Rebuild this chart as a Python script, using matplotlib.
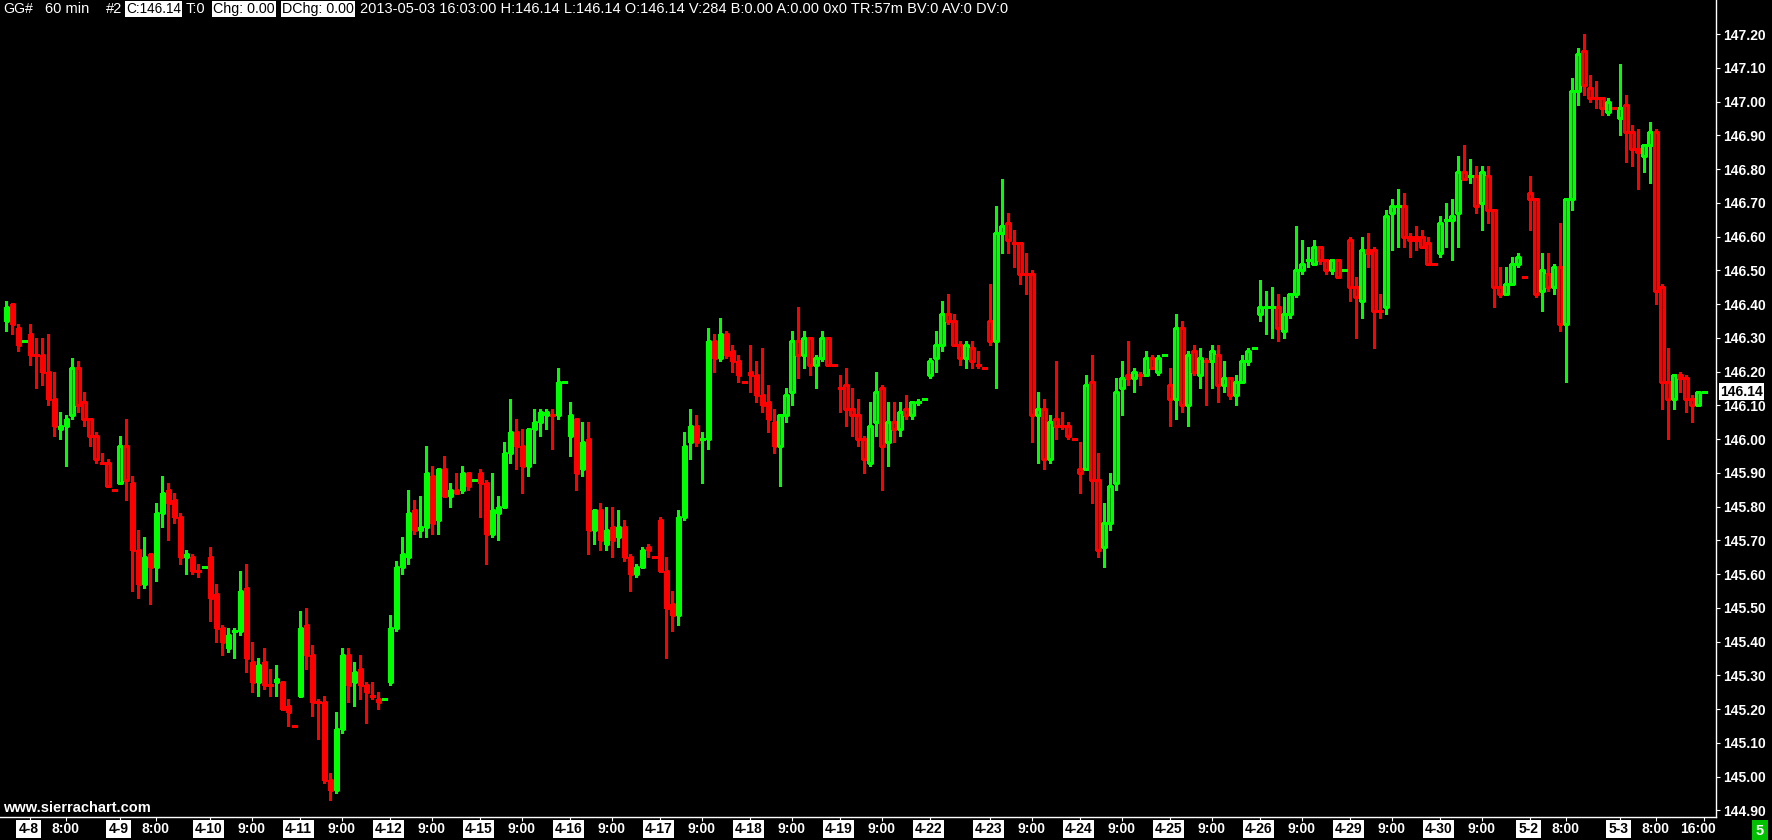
import matplotlib
matplotlib.use("Agg")
import matplotlib.pyplot as plt
from matplotlib import font_manager

# 60 min bars, GG#, 2013-04-05 .. 2013-05-03 (one list row per session)
opens = [
    146.35, 146.40, 146.33, 146.29,
    146.31, 146.25, 146.25, 146.20, 146.12, 146.03, 146.04, 146.07, 146.21, 146.11, 146.06, 146.01, 145.93, 145.93, 145.85,
    145.87, 145.98, 145.87, 145.67, 145.57, 145.66, 145.62, 145.78, 145.85, 145.82, 145.77, 145.65, 145.65, 145.61, 145.62,
    145.65, 145.54, 145.44, 145.38, 145.43, 145.43, 145.56, 145.34, 145.28, 145.34, 145.27, 145.28, 145.28, 145.21, 145.15,
    145.24, 145.45, 145.36, 145.22, 145.22, 144.99, 144.96, 145.14, 145.36, 145.28, 145.32, 145.27, 145.24, 145.23, 145.23,
    145.28, 145.44, 145.62, 145.65, 145.79, 145.73, 145.74, 145.89, 145.76, 145.91, 145.83, 145.85, 145.85, 145.90, 145.88,
    145.90, 145.87, 145.72, 145.78, 145.80, 145.96, 146.02, 145.98, 145.92, 146.03, 146.05, 146.07, 146.07, 146.07, 146.17,
    146.01, 146.06, 145.91, 146.00, 145.73, 145.79, 145.69, 145.74, 145.71, 145.74, 145.65, 145.60, 145.62, 145.68, 145.65,
    145.76, 145.61, 145.51, 145.48, 145.77, 145.99, 146.04, 146.00, 146.00, 146.29, 146.24, 146.31, 146.26, 146.23, 146.17,
    146.20, 146.19, 146.13, 146.11, 146.05, 145.98, 146.07, 146.14, 146.29, 146.25, 146.30, 146.22, 146.24, 146.30, 146.22,
    146.15, 146.16, 146.09, 146.07, 146.00, 145.93, 146.05, 146.15, 145.99, 146.05, 146.03, 146.09, 146.07, 146.11, 146.12,
    146.19, 146.24, 146.28, 146.37, 146.35, 146.28, 146.24, 146.27, 146.22, 146.21,
    146.35, 146.29, 146.61, 146.64, 146.58, 146.58, 146.49, 146.49, 146.07, 146.09, 145.94, 146.06, 146.04, 146.04, 146.00,
    145.91, 145.91, 146.17, 145.88, 145.68, 145.75, 145.87, 146.15, 146.19, 146.18, 146.19, 146.19, 146.24, 146.20, 146.25,
    146.16, 146.12, 146.33, 146.10, 146.26, 146.19, 146.23, 146.23, 146.25, 146.16, 146.18, 146.13, 146.17, 146.23, 146.27,
    146.37, 146.39, 146.39, 146.39, 146.32, 146.37, 146.43, 146.50, 146.53, 146.52, 146.57, 146.53, 146.50, 146.53, 146.50,
    146.59, 146.45, 146.41, 146.56, 146.56, 146.38, 146.39, 146.67, 146.69, 146.69, 146.60, 146.60, 146.60, 146.58, 146.52,
    146.55, 146.65, 146.65, 146.67, 146.79, 146.78, 146.78, 146.70, 146.78, 146.68, 146.45, 146.43, 146.46, 146.52, 146.48,
    146.73, 146.71, 146.44, 146.49, 146.45, 146.51, 146.34, 146.71, 147.03, 147.15, 147.04, 147.01, 147.01, 146.97, 146.98,
    146.95, 146.99, 146.91, 146.86, 146.84, 146.87, 146.91, 146.45, 146.17, 146.12, 146.19, 146.18, 146.12, 146.10, 146.14,
]
highs = [
    146.41, 146.40, 146.34, 146.29,
    146.34, 146.30, 146.30, 146.31, 146.20, 146.08, 146.07, 146.24, 146.23, 146.14, 146.06, 146.02, 145.96, 145.94, 145.85,
    146.01, 146.06, 145.89, 145.73, 145.71, 145.66, 145.81, 145.89, 145.87, 145.84, 145.78, 145.67, 145.66, 145.63, 145.62,
    145.68, 145.57, 145.45, 145.44, 145.44, 145.61, 145.63, 145.40, 145.35, 145.38, 145.32, 145.33, 145.28, 145.23, 145.15,
    145.49, 145.50, 145.39, 145.23, 145.24, 145.01, 145.19, 145.38, 145.38, 145.34, 145.36, 145.28, 145.28, 145.25, 145.23,
    145.48, 145.64, 145.71, 145.85, 145.82, 145.83, 145.98, 145.92, 145.91, 145.95, 145.87, 145.90, 145.92, 145.90, 145.88,
    145.91, 145.88, 145.90, 145.83, 145.99, 146.12, 146.06, 146.03, 146.03, 146.09, 146.09, 146.09, 146.09, 146.21, 146.17,
    146.11, 146.06, 146.05, 146.05, 145.79, 145.81, 145.80, 145.80, 145.79, 145.76, 145.66, 145.63, 145.68, 145.69, 145.65,
    145.77, 145.65, 145.55, 145.79, 146.02, 146.09, 146.07, 146.02, 146.33, 146.31, 146.36, 146.32, 146.28, 146.25, 146.17,
    146.28, 146.23, 146.27, 146.16, 146.09, 146.07, 146.15, 146.32, 146.39, 146.32, 146.30, 146.25, 146.32, 146.30, 146.22,
    146.19, 146.21, 146.15, 146.12, 146.01, 146.11, 146.20, 146.16, 146.11, 146.11, 146.11, 146.13, 146.11, 146.12, 146.12,
    146.24, 146.32, 146.41, 146.43, 146.37, 146.29, 146.29, 146.29, 146.26, 146.21,
    146.46, 146.69, 146.77, 146.67, 146.62, 146.58, 146.55, 146.50, 146.14, 146.12, 146.07, 146.23, 146.08, 146.05, 146.00,
    145.99, 146.19, 146.25, 145.96, 145.81, 145.90, 146.18, 146.23, 146.29, 146.21, 146.20, 146.26, 146.25, 146.25, 146.25,
    146.21, 146.37, 146.35, 146.26, 146.28, 146.27, 146.24, 146.28, 146.28, 146.23, 146.18, 146.19, 146.25, 146.27, 146.27,
    146.47, 146.44, 146.45, 146.43, 146.42, 146.43, 146.63, 146.59, 146.57, 146.59, 146.57, 146.53, 146.53, 146.53, 146.50,
    146.60, 146.48, 146.60, 146.61, 146.57, 146.43, 146.68, 146.71, 146.74, 146.73, 146.61, 146.63, 146.62, 146.60, 146.52,
    146.66, 146.70, 146.71, 146.84, 146.87, 146.83, 146.81, 146.81, 146.81, 146.68, 146.51, 146.51, 146.54, 146.55, 146.48,
    146.78, 146.71, 146.55, 146.55, 146.52, 146.64, 146.71, 147.07, 147.16, 147.20, 147.08, 147.06, 147.01, 147.01, 146.98,
    147.11, 147.02, 146.93, 146.92, 146.87, 146.94, 146.92, 146.46, 146.27, 146.19, 146.20, 146.19, 146.13, 146.14, 146.14,
]
lows = [
    146.32, 146.31, 146.26, 146.29,
    146.22, 146.15, 146.16, 146.10, 146.01, 146.00, 145.92, 146.06, 146.08, 146.04, 145.98, 145.93, 145.93, 145.86, 145.85,
    145.87, 145.82, 145.55, 145.53, 145.56, 145.51, 145.58, 145.74, 145.70, 145.75, 145.63, 145.60, 145.60, 145.59, 145.62,
    145.46, 145.40, 145.36, 145.37, 145.35, 145.42, 145.31, 145.25, 145.24, 145.26, 145.24, 145.24, 145.20, 145.15, 145.15,
    145.24, 145.32, 145.18, 145.11, 144.98, 144.93, 144.95, 145.13, 145.22, 145.21, 145.23, 145.16, 145.23, 145.20, 145.23,
    145.27, 145.43, 145.60, 145.63, 145.72, 145.71, 145.71, 145.72, 145.72, 145.83, 145.80, 145.84, 145.84, 145.85, 145.88,
    145.77, 145.63, 145.71, 145.70, 145.80, 145.93, 145.91, 145.84, 145.89, 145.93, 146.01, 146.03, 145.97, 146.06, 146.17,
    145.95, 145.85, 145.89, 145.66, 145.69, 145.67, 145.67, 145.65, 145.68, 145.64, 145.55, 145.59, 145.62, 145.65, 145.65,
    145.61, 145.35, 145.43, 145.45, 145.76, 145.94, 145.98, 145.87, 145.97, 146.20, 146.23, 146.24, 146.20, 146.17, 146.17,
    146.14, 146.11, 146.08, 146.02, 145.96, 145.86, 146.05, 146.10, 146.18, 146.21, 146.19, 146.15, 146.23, 146.22, 146.22,
    146.08, 146.04, 146.01, 145.98, 145.90, 145.92, 146.01, 145.85, 145.92, 145.99, 146.01, 146.06, 146.06, 146.10, 146.12,
    146.18, 146.20, 146.26, 146.34, 146.28, 146.22, 146.21, 146.21, 146.21, 146.21,
    146.28, 146.15, 146.55, 146.55, 146.51, 146.46, 146.43, 145.99, 145.93, 145.91, 145.93, 146.00, 146.03, 146.00, 146.00,
    145.84, 145.91, 145.81, 145.65, 145.62, 145.73, 145.85, 146.07, 146.16, 146.14, 146.16, 146.19, 146.21, 146.19, 146.25,
    146.04, 146.06, 146.08, 146.04, 146.19, 146.15, 146.10, 146.15, 146.11, 146.14, 146.12, 146.10, 146.17, 146.22, 146.27,
    146.35, 146.31, 146.30, 146.29, 146.30, 146.36, 146.42, 146.49, 146.51, 146.52, 146.52, 146.49, 146.49, 146.48, 146.50,
    146.41, 146.30, 146.36, 146.51, 146.27, 146.36, 146.37, 146.56, 146.57, 146.57, 146.54, 146.56, 146.57, 146.52, 146.52,
    146.54, 146.57, 146.53, 146.57, 146.77, 146.76, 146.67, 146.62, 146.64, 146.39, 146.42, 146.43, 146.46, 146.51, 146.48,
    146.62, 146.42, 146.38, 146.44, 146.43, 146.32, 146.17, 146.68, 146.99, 147.02, 147.00, 146.98, 146.96, 146.96, 146.98,
    146.90, 146.82, 146.81, 146.74, 146.79, 146.76, 146.40, 146.09, 146.00, 146.09, 146.14, 146.08, 146.05, 146.10, 146.14,
]
closes = [
    146.39, 146.34, 146.28, 146.29,
    146.25, 146.25, 146.20, 146.12, 146.04, 146.04, 146.06, 146.21, 146.10, 146.06, 146.01, 145.94, 145.93, 145.86, 145.85,
    145.98, 145.88, 145.67, 145.57, 145.65, 145.62, 145.78, 145.84, 145.81, 145.77, 145.65, 145.66, 145.61, 145.61, 145.62,
    145.53, 145.44, 145.40, 145.42, 145.43, 145.55, 145.35, 145.28, 145.33, 145.27, 145.27, 145.29, 145.20, 145.19, 145.15,
    145.44, 145.36, 145.22, 145.22, 144.99, 144.96, 145.14, 145.36, 145.27, 145.31, 145.27, 145.25, 145.24, 145.22, 145.23,
    145.44, 145.62, 145.66, 145.78, 145.73, 145.74, 145.90, 145.75, 145.91, 145.83, 145.85, 145.84, 145.90, 145.86, 145.88,
    145.87, 145.72, 145.79, 145.80, 145.96, 146.02, 145.98, 145.92, 146.03, 146.05, 146.08, 146.08, 146.07, 146.17, 146.17,
    146.07, 145.90, 145.99, 145.73, 145.79, 145.70, 145.73, 145.70, 145.74, 145.65, 145.60, 145.62, 145.67, 145.67, 145.65,
    145.61, 145.50, 145.48, 145.77, 145.98, 146.04, 145.99, 146.00, 146.29, 146.24, 146.31, 146.25, 146.23, 146.19, 146.17,
    146.19, 146.13, 146.10, 146.06, 145.98, 146.07, 146.13, 146.29, 146.25, 146.30, 146.22, 146.24, 146.30, 146.22, 146.22,
    146.15, 146.09, 146.07, 146.00, 145.94, 146.04, 146.14, 145.98, 146.05, 146.03, 146.08, 146.07, 146.11, 146.11, 146.12,
    146.23, 146.28, 146.37, 146.35, 146.28, 146.24, 146.28, 146.23, 146.22, 146.21,
    146.29, 146.61, 146.63, 146.59, 146.58, 146.49, 146.49, 146.07, 146.09, 145.94, 146.05, 146.04, 146.04, 146.01, 146.00,
    145.90, 146.16, 145.88, 145.67, 145.75, 145.86, 146.14, 146.18, 146.18, 146.20, 146.19, 146.24, 146.21, 146.24, 146.25,
    146.12, 146.33, 146.10, 146.25, 146.20, 146.24, 146.23, 146.26, 146.16, 146.18, 146.13, 146.17, 146.23, 146.26, 146.27,
    146.39, 146.39, 146.39, 146.33, 146.37, 146.43, 146.50, 146.52, 146.53, 146.57, 146.53, 146.50, 146.53, 146.48, 146.50,
    146.45, 146.42, 146.56, 146.55, 146.38, 146.38, 146.66, 146.69, 146.69, 146.60, 146.59, 146.59, 146.57, 146.52, 146.52,
    146.64, 146.65, 146.66, 146.79, 146.77, 146.78, 146.69, 146.79, 146.68, 146.45, 146.43, 146.46, 146.52, 146.54, 146.48,
    146.71, 146.43, 146.50, 146.45, 146.51, 146.34, 146.71, 147.03, 147.14, 147.05, 147.01, 147.01, 146.98, 147.00, 146.98,
    146.98, 146.91, 146.86, 146.85, 146.87, 146.91, 146.44, 146.17, 146.12, 146.19, 146.18, 146.12, 146.10, 146.14, 146.14,
]

# session labels on the time axis and the bar each one starts on
day_names = ["4-8", "4-9", "4-10", "4-11", "4-12", "4-15", "4-16", "4-17", "4-18", "4-19",
             "4-22", "4-23", "4-24", "4-25", "4-26", "4-29", "4-30", "5-2", "5-3"]
day_first = [4, 19, 34, 49, 64, 79, 94, 109, 124, 139, 154, 164, 179, 194, 209, 224, 239, 254, 269]
hour_names = ["8:00", "8:00", "9:00", "9:00", "9:00", "9:00", "9:00", "9:00", "9:00", "9:00",
              "9:00", "9:00", "9:00", "9:00", "9:00", "9:00", "8:00", "8:00", "16:00"]
hour_bars = [10, 25, 41, 56, 71, 86, 101, 116, 131, 146, 171, 186, 201, 216, 231, 246, 260, 275, 283]

price_ticks = [round(144.9 + 0.1 * k, 2) for k in range(24)]
last_price = 146.14

header_parts = ["GG#", "60 min", "#2", "C:146.14", "T:0", "Chg: 0.00", "DChg: 0.00",
                "2013-05-03 16:03:00 H:146.14 L:146.14 O:146.14 V:284 B:0.00 A:0.00 "
                "0x0 TR:57m BV:0 AV:0 DV:0"]
header_boxed = [False, False, False, True, False, True, True, False]
# left edge and room (px) of each header part
header_left = [3, 45, 106, 126, 186, 213, 282, 360]
header_room = [30, 55, 17, 55, 20, 62, 72, 645]


def first_font(names):
    for n in names:
        try:
            font_manager.findfont(n, fallback_to_default=False)
            return n
        except ValueError:
            pass
    return "DejaVu Sans"


AX_FONT = first_font(["Liberation Sans", "Arial"])
HEAD_FONT = first_font(["Liberation Sans Narrow", "Liberation Sans"])

W, H = 1772, 840
fig = plt.figure(figsize=(W / 100, H / 100), dpi=100, facecolor="black")
ax = fig.add_axes([0, 1 - 817 / H, 1716 / W, 817 / H])
ax.set_facecolor("black")

UP, DOWN = "#00ff00", "#ff0000"
UP_FILL, DOWN_FILL = "#00a000", "#a00000"

# candle colour: body direction, else change vs previous close, else previous colour
up = []
for i, (o, c) in enumerate(zip(opens, closes)):
    if c > o:
        up.append(True)
    elif c < o:
        up.append(False)
    elif i > 0 and c != closes[i - 1]:
        up.append(c > closes[i - 1])
    else:
        up.append(up[-1] if up else True)

xs = list(range(len(opens)))
edge = [UP if u else DOWN for u in up]
fill = [UP_FILL if u else DOWN_FILL for u in up]

ax.vlines(xs, lows, highs, colors=edge, linewidth=0.8, antialiased=False, zorder=2)

bx = [x for x in xs if opens[x] != closes[x]]
ax.bar(bx, [abs(closes[x] - opens[x]) for x in bx],
       bottom=[min(opens[x], closes[x]) for x in bx], width=0.6,
       color=[fill[x] for x in bx], edgecolor=[edge[x] for x in bx],
       linewidth=0.9, antialiased=False, zorder=3)

dx = [x for x in xs if opens[x] == closes[x]]
ax.hlines([opens[x] for x in dx], [x - 0.4 for x in dx], [x + 0.4 for x in dx],
          colors=[edge[x] for x in dx], linewidth=0.9, antialiased=False, zorder=3)

ax.set_xlim(-1.05, 284.95)
ax.set_ylim(144.880, 147.301)

for s in ["top", "left"]:
    ax.spines[s].set_visible(False)
for s in ["right", "bottom"]:
    ax.spines[s].set_color("white")
    ax.spines[s].set_linewidth(1.0)

ax.yaxis.tick_right()
ax.set_yticks(price_ticks)
ax.set_yticklabels([f"{v:.2f}" for v in price_ticks])
ax.tick_params(axis="y", colors="white", length=3, width=0.8, pad=2, labelsize=10)
for t in ax.get_yticklabels():
    t.set_fontweight("bold")
    t.set_fontfamily(AX_FONT)

ax.set_xticks(day_first + hour_bars)
ax.tick_params(axis="x", colors="white", length=3, width=0.8, labelbottom=False)

xt = ax.get_xaxis_transform()
ylab = -12 / 817
for name, b in zip(day_names, day_first):
    ax.text(b - 0.3, ylab, name, transform=xt, ha="center", va="center",
            color="black", fontsize=10, fontweight="bold", family=AX_FONT, clip_on=False,
            bbox=dict(boxstyle="square,pad=0.15", fc="white", ec="none"))
for name, b in zip(hour_names, hour_bars):
    xpos = min(b - 0.2, 284.95 - 3.0)
    ax.text(xpos, ylab, name, transform=xt, ha="center", va="center",
            color="white", fontsize=10, fontweight="bold", family=AX_FONT, clip_on=False)

ax.text(1.0025, last_price, f"{last_price:.2f}", transform=ax.get_yaxis_transform(),
        ha="left", va="center", color="black", fontsize=10, fontweight="bold",
        family=AX_FONT, clip_on=False, zorder=10,
        bbox=dict(boxstyle="square,pad=0.1", fc="white", ec="none"))

ax.text(3 / 1716, (817 - 808) / 817, "www.sierrachart.com", transform=ax.transAxes,
        ha="left", va="center", color="white", fontsize=10.5, fontweight="bold",
        family=AX_FONT, zorder=10)

# header line: the long part sets the size, short parts shrink only if they must
hy = 1 - 9 / H
renderer = fig.canvas.get_renderer()
fits = []
for txt, room in zip(header_parts, header_room):
    probe = fig.text(0, 0, txt, fontsize=10, family=HEAD_FONT)
    fits.append(10 * room / probe.get_window_extent(renderer).width)
    probe.remove()
base = fits[-1]
for txt, boxed, left, fit in zip(header_parts, header_boxed, header_left, fits):
    kw = dict(fontsize=min(base, fit), family=HEAD_FONT, va="center", ha="left")
    if boxed:
        fig.text(left / W, hy, txt, color="black",
                 bbox=dict(boxstyle="square,pad=0.1", fc="white", ec="none"), **kw)
    else:
        fig.text(left / W, hy, txt, color="white", **kw)

fig.text(1760 / W, 1 - 831 / H, "5", color="white", fontsize=10.5, fontweight="bold",
         family=AX_FONT, ha="center", va="center",
         bbox=dict(boxstyle="square,pad=0.3", fc="#00c000", ec="none"))

fig.savefig("out.png", dpi=100, facecolor="black")
